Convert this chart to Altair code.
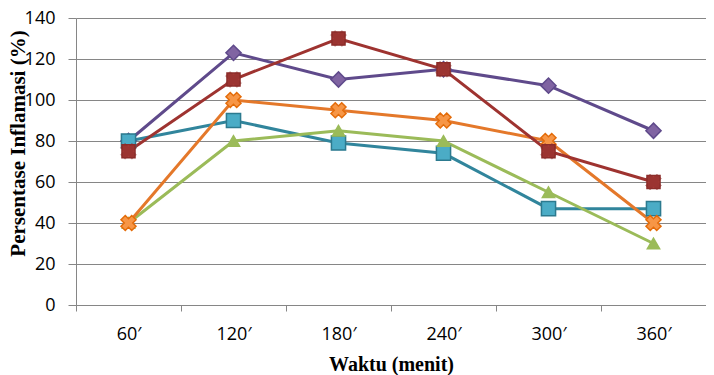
import altair as alt
import pandas as pd

# ---- data ----
waktu = ["60′", "120′", "180′", "240′", "300′", "360′"]
seri_ungu = [80, 123, 110, 115, 107, 85]
seri_teal = [80, 90, 79, 74, 47, 47]
seri_hijau = [40, 80, 85, 80, 55, 30]
seri_oranye = [40, 100, 95, 90, 80, 40]
seri_merah = [75, 110, 130, 115, 75, 60]
y_ticks = [0, 20, 40, 60, 80, 100, 120, 140]

series = {
    "ungu": seri_ungu,
    "teal": seri_teal,
    "hijau": seri_hijau,
    "oranye": seri_oranye,
    "merah": seri_merah,
}

rows = []
for name, vals in series.items():
    for w, v in zip(waktu, vals):
        rows.append({"seri": name, "waktu": w, "nilai": v})
df = pd.DataFrame(rows)

# ---- styles ----
styles = {
    "ungu": dict(line="#5F4A8B", shape="diamond", fill="#8064A2", stroke="#5F4A8B", size=230, angle=0),
    "teal": dict(line="#31859C", shape="square", fill="#4BACC6", stroke="#2C7A8F", size=200, angle=0),
    "hijau": dict(line="#9BBB59", shape="triangle-up", fill="#9BBB59", stroke="#9BBB59", size=150, angle=0),
    "oranye": dict(line="#E4782A", shape="cross", fill="#F79646", stroke="#E46C0A", size=230, angle=45),
    "merah": dict(line="#9E3330", shape="square", fill="#B3403C", stroke="#8C2D2A", size=170, angle=0),
}

grid_col = "#868686"

x_enc = alt.X(
    "waktu:N",
    sort=waktu,
    scale=alt.Scale(domain=waktu, paddingInner=0, paddingOuter=0),
    axis=alt.Axis(
        title="Waktu (menit)",
        labelAngle=0,
        tickBand="extent",
        tickSize=6,
        tickColor=grid_col,
        domainColor=grid_col,
        labelFont="Open Sans",
        labelFontSize=18,
        labelColor="#000000",
        labelPadding=14,
        grid=False,
        titleFont="Liberation Serif",
        titleFontWeight="bold",
        titleFontSize=20,
        titleColor="#000000",
        titleBaseline="alphabetic",
        titleY=65,
    ),
)
y_enc = alt.Y(
    "nilai:Q",
    scale=alt.Scale(domain=[0, 140], nice=False, zero=True),
    axis=alt.Axis(
        values=y_ticks,
        title="Persentase Inflamasi (%)",
        tickSize=8,
        tickColor=grid_col,
        domainColor=grid_col,
        gridColor=grid_col,
        gridWidth=1,
        labelFont="Open Sans",
        labelFontSize=18,
        labelColor="#000000",
        labelPadding=13,
        titleFont="Liberation Serif",
        titleFontWeight="bold",
        titleFontSize=21,
        titleColor="#000000",
        titleBaseline="alphabetic",
        titleX=-52,
        titleY=125,
    ),
)

base = alt.Chart(df).encode(x=x_enc, y=y_enc)

layers = []
for name, st in styles.items():
    sub = base.transform_filter(alt.datum.seri == name)
    layers.append(sub.mark_line(color=st["line"], strokeWidth=3))
for name, st in styles.items():
    sub = base.transform_filter(alt.datum.seri == name)
    layers.append(
        sub.mark_point(
            shape=st["shape"], filled=True, fill=st["fill"], stroke=st["stroke"],
            strokeWidth=1.5, size=st["size"], angle=st["angle"], opacity=1,
        )
    )
    if name == "merah":
        layers.append(
            sub.mark_point(
                shape="cross", filled=True, fill=st["stroke"], stroke=st["stroke"],
                strokeWidth=0.5, size=260, angle=45, opacity=0.6,
            )
        )

chart = (
    alt.layer(*layers)
    .properties(
        width=630,
        height=287,
        padding={"left": 68, "top": 10, "right": 0, "bottom": 70},
        autosize=alt.AutoSizeParams(type="none"),
        background="#ffffff",
    )
    .configure_view(stroke=None)
)

chart.save("out.html", embed_options={"renderer": "svg", "actions": False})
